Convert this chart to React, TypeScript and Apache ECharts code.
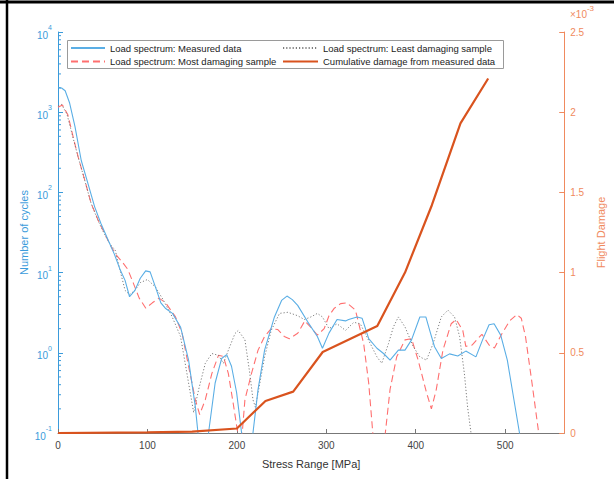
import React, { useEffect, useRef } from 'react';
import * as echarts from 'echarts';

// ---- data ----
const measuredStress = [0, 4, 8, 13, 19, 26, 34, 41, 48, 56, 63, 69, 75, 80, 86, 92, 98, 103, 109, 115, 120, 128, 137, 146, 153.6, 156.5, 162, 168.3, 175.7, 183, 188.6, 194, 199.7, 205.3, 212, 218, 223.7, 231, 242, 250, 256, 262, 268, 279, 290, 295.7, 303, 312, 321.5, 325, 334.4, 340, 347.4, 356.6, 364, 371.3, 380.6, 388, 395.3, 404.6, 411.3, 415.6, 421, 428.6, 437.8, 447, 456, 467.3, 474.7, 482, 487.6, 495, 502.4, 509.8, 516, 519];
const measuredCycles = [2050, 2000, 1850, 1300, 660, 250, 123, 66, 41, 25.5, 17, 11.2, 8, 5, 6, 8.5, 10.5, 10.2, 6.6, 4.2, 3.6, 3.1, 2.1, 0.81, 0.21, 0.1, 0.01, 0.1, 0.42, 0.85, 0.95, 0.68, 0.32, 0.1, 0.01, 0.1, 0.35, 1.08, 2.8, 4.5, 5.1, 4.6, 3.9, 2.45, 1.6, 1.14, 1.76, 2.6, 2.5, 2.6, 2.8, 2.7, 1.5, 1.14, 0.98, 0.81, 1.08, 1.08, 1.45, 2.8, 2.8, 1.9, 1.19, 0.85, 0.97, 0.91, 1.05, 0.89, 1.45, 2.24, 2.3, 1.66, 0.81, 0.26, 0.1, 0.02];

const mostStress = [0, 5, 11, 17, 22.5, 30, 37, 44.6, 52, 59.5, 65, 72, 78, 84, 90.8, 98.2, 105.5, 113, 120.4, 131.4, 138.8, 146, 153.6, 158.4, 164.7, 172, 179.4, 185, 190.5, 196, 201, 203.5, 206, 209, 216.3, 223.7, 231, 238.4, 245.8, 253, 258.7, 268, 276, 284, 290, 297.6, 303, 309, 316, 323, 332.6, 341.8, 347.4, 352, 359, 366, 371.3, 378.7, 388, 395.3, 402.7, 412, 417.5, 423, 430.4, 439.6, 445.2, 452.6, 456, 463, 474, 482, 488, 496, 505, 513, 518, 522.7, 530, 537.5, 541];
const mostCycles = [1150, 1230, 930, 490, 277, 141, 73, 46, 31, 21, 16.6, 13.5, 11, 7.5, 4.8, 3.6, 4.2, 4.8, 4.2, 2.8, 1.74, 0.68, 0.26, 0.17, 0.26, 0.55, 0.93, 0.9, 0.55, 0.23, 0.1, 0.04, 0.1, 0.26, 0.55, 1.08, 1.6, 2.0, 1.95, 1.6, 1.5, 1.75, 2.5, 2.0, 1.66, 2.0, 2.9, 3.6, 4.1, 4.2, 3.4, 1.3, 0.42, 0.1, 0.02, 0.1, 0.35, 0.89, 1.45, 1.5, 0.81, 0.32, 0.2, 0.35, 1.08, 2.3, 2.6, 1.9, 1.2, 1.25, 1.7, 1.25, 1.15, 1.7, 2.5, 3.0, 2.7, 1.6, 0.42, 0.1, 0.03];

const leastStress = [0, 4, 10, 16, 22, 30, 37, 45, 52, 59, 64, 70, 75, 80, 86, 92, 100, 109, 118, 127.7, 137, 146, 151.7, 157.3, 164.7, 172, 179.4, 185, 190.5, 197.9, 201.5, 209, 214.5, 218, 220.7, 224.4, 231, 238.4, 247.7, 257, 268, 275.4, 282.8, 290, 295.7, 303, 312, 321.5, 330.8, 338, 349.2, 356.6, 362, 369.5, 375, 380.6, 388, 397.3, 404.6, 412, 419.4, 428.6, 436, 443.4, 449, 454.4, 458, 461.8, 464];
const leastCycles = [1200, 1250, 950, 520, 290, 140, 73, 44, 30, 22, 19, 10, 6, 5.3, 6, 7.5, 8.2, 6.6, 4.5, 2.8, 1.6, 0.42, 0.18, 0.35, 0.74, 0.98, 0.93, 0.74, 1.08, 1.74, 1.9, 1.45, 0.55, 0.26, 0.21, 0.35, 0.89, 1.9, 3.1, 3.2, 2.9, 2.6, 2.8, 3.1, 2.8, 2.0, 2.3, 1.9, 2.4, 2.3, 1.3, 0.89, 0.74, 1.3, 2.1, 2.8, 2.1, 1.19, 0.89, 0.81, 1.3, 2.8, 3.4, 2.8, 1.6, 0.55, 0.21, 0.1, 0.02];

const damageStress = [0, 100, 150, 200, 232, 263, 296, 357, 388, 418, 450, 481];
const damageE3 = [0, 0.004, 0.009, 0.028, 0.2, 0.258, 0.505, 0.667, 1.0, 1.42, 1.93, 2.21]; // ×10^-3

const leftExponents = ['-1', '0', '1', '2', '3', '4'];

const NAME_MEASURED = 'Load spectrum: Measured data';
const NAME_MOST = 'Load spectrum: Most damaging sample';
const NAME_LEAST = 'Load spectrum: Least damaging sample';
const NAME_DAMAGE = 'Cumulative damage from measured data';

// ---- styles ----
const FONT = 'Liberation Sans, Arial, Helvetica, sans-serif';
const BLUE_AXIS = '#3b9bdb';
const BLUE_LINE = '#5aaee5';
const RED_LINE = '#ff6f6f';
const GRAY_LINE = '#7d7d7d';
const ORANGE_LINE = '#d9531e';
const ORANGE_AXIS = '#f08a5e';

const zip = (xs: number[], ys: number[]) => xs.map((x, i) => [x, ys[i]]);

const minorTicks: number[][] = [];
for (let e = -1; e < 4; e++) {
  for (let m = 2; m <= 9; m++) minorTicks.push([0, m * Math.pow(10, e)]);
}

export default function App() {
  const ref = useRef<HTMLDivElement>(null);
  useEffect(() => {
    document.body.style.margin = '0';
    const chart = echarts.init(ref.current!, undefined, { renderer: 'svg' });
    const legendCommon = {
      orient: 'vertical' as const,
      top: 41.5,
      itemHeight: 10,
      itemGap: 0.5,
      padding: 0,
      itemStyle: { opacity: 0 },
      textStyle: { fontFamily: FONT, fontSize: 9.5, color: '#222', lineHeight: 13 },
      selectedMode: false,
    };
    chart.setOption({
      animation: false,
      backgroundColor: '#fff',
      grid: { left: 58, right: 46, top: 32, bottom: 46, containLabel: false },
      legend: [
        { ...legendCommon, left: 70, itemWidth: 34, itemTextGap: 1, data: [NAME_MEASURED, NAME_MOST] },
        { ...legendCommon, left: 282, itemWidth: 35, itemTextGap: 3, data: [NAME_LEAST, NAME_DAMAGE] },
      ],
      graphic: [
        { type: 'line', z: 100, shape: { x1: 0, y1: 2, x2: 614, y2: 2 }, style: { stroke: '#000', lineWidth: 3 } },
        { type: 'line', z: 100, shape: { x1: 7, y1: 0, x2: 7, y2: 479 }, style: { stroke: '#000', lineWidth: 2.5 } },
        { type: 'rect', z: 1, shape: { x: 67.5, y: 40.5, width: 436, height: 28 }, style: { fill: '#fff', stroke: '#9a9a9a', lineWidth: 1 } },
        {
          type: 'text', z: 5, x: 570, y: 4,
          style: {
            text: '{a|×10}{e|-3}',
            rich: {
              a: { fontFamily: FONT, fontSize: 10, fill: ORANGE_AXIS, verticalAlign: 'bottom', lineHeight: 15 },
              e: { fontFamily: FONT, fontSize: 8, fill: ORANGE_AXIS, verticalAlign: 'top', lineHeight: 15 },
            },
          },
        },
      ],
      xAxis: {
        type: 'value', min: 0, max: 566, interval: 100,
        name: 'Stress Range [MPa]', nameLocation: 'middle', nameGap: 25,
        nameTextStyle: { fontFamily: FONT, fontSize: 11, color: '#333' },
        axisLine: { lineStyle: { color: '#777', width: 1 } },
        axisTick: { inside: true, length: 4, lineStyle: { color: '#777' } },
        axisLabel: { fontFamily: FONT, fontSize: 10, color: '#444', margin: 7, showMaxLabel: false },
        splitLine: { show: false },
      },
      yAxis: [
        {
          type: 'log', logBase: 10, min: 0.1, max: 10000, position: 'left',
          name: 'Number of cycles', nameLocation: 'middle', nameGap: 29, nameRotate: 90, nameMoveOverlap: false,
          nameTextStyle: { fontFamily: FONT, fontSize: 11, color: BLUE_AXIS },
          axisLine: { show: true, lineStyle: { color: BLUE_AXIS, width: 1 } },
          axisTick: { show: true, inside: true, length: 5, lineStyle: { color: BLUE_AXIS } },
          axisLabel: {
            margin: 6,
            formatter: (v: number) => {
              const e = leftExponents[Math.round(Math.log10(v)) + 1];
              return `{b|10}{e|${e}}`;
            },
            rich: {
              b: { fontFamily: FONT, fontSize: 10, color: BLUE_AXIS, verticalAlign: 'bottom', lineHeight: 16 },
              e: { fontFamily: FONT, fontSize: 7, color: BLUE_AXIS, verticalAlign: 'top', lineHeight: 16 },
            },
          },
          splitLine: { show: false },
        },
        {
          type: 'value', min: 0, max: 2.5, interval: 0.5, position: 'right',
          name: 'Flight Damage', nameLocation: 'middle', nameGap: 26, nameRotate: 90,
          nameTextStyle: { fontFamily: FONT, fontSize: 11, color: ORANGE_AXIS },
          axisLine: { show: true, lineStyle: { color: ORANGE_AXIS, width: 1 } },
          axisTick: { show: true, inside: true, length: 5, lineStyle: { color: ORANGE_AXIS } },
          axisLabel: { fontFamily: FONT, fontSize: 10, color: ORANGE_AXIS, margin: 6 },
          splitLine: { show: false },
        },
      ],
      series: [
        {
          name: NAME_MEASURED, type: 'line', yAxisIndex: 0, symbol: 'none', clip: true, z: 3,
          data: zip(measuredStress, measuredCycles),
          lineStyle: { color: BLUE_LINE, width: 1.1 }, itemStyle: { color: BLUE_LINE },
        },
        {
          name: NAME_MOST, type: 'line', yAxisIndex: 0, symbol: 'none', clip: true, z: 2,
          data: zip(mostStress, mostCycles),
          lineStyle: { color: RED_LINE, width: 1.1, type: [7, 4] }, itemStyle: { color: RED_LINE },
        },
        {
          name: NAME_LEAST, type: 'line', yAxisIndex: 0, symbol: 'none', clip: true, z: 2,
          data: zip(leastStress, leastCycles),
          lineStyle: { color: GRAY_LINE, width: 1, type: [1.2, 2] }, itemStyle: { color: GRAY_LINE },
        },
        {
          name: NAME_DAMAGE, type: 'line', yAxisIndex: 1, symbol: 'none', clip: true, z: 4,
          data: zip(damageStress, damageE3),
          lineStyle: { color: ORANGE_LINE, width: 2.2 }, itemStyle: { color: ORANGE_LINE },
        },
        {
          type: 'custom', yAxisIndex: 0, silent: true, z: 5,
          data: minorTicks,
          renderItem: (_p: any, api: any) => {
            const pt = api.coord([0, api.value(1)]);
            return {
              type: 'line',
              shape: { x1: pt[0], y1: pt[1], x2: pt[0] + 3, y2: pt[1] },
              style: { stroke: BLUE_AXIS, lineWidth: 1 },
            };
          },
        },
      ],
    });
    return () => chart.dispose();
  }, []);
  return <div ref={ref} style={{ width: 614, height: 479 }} />;
}
